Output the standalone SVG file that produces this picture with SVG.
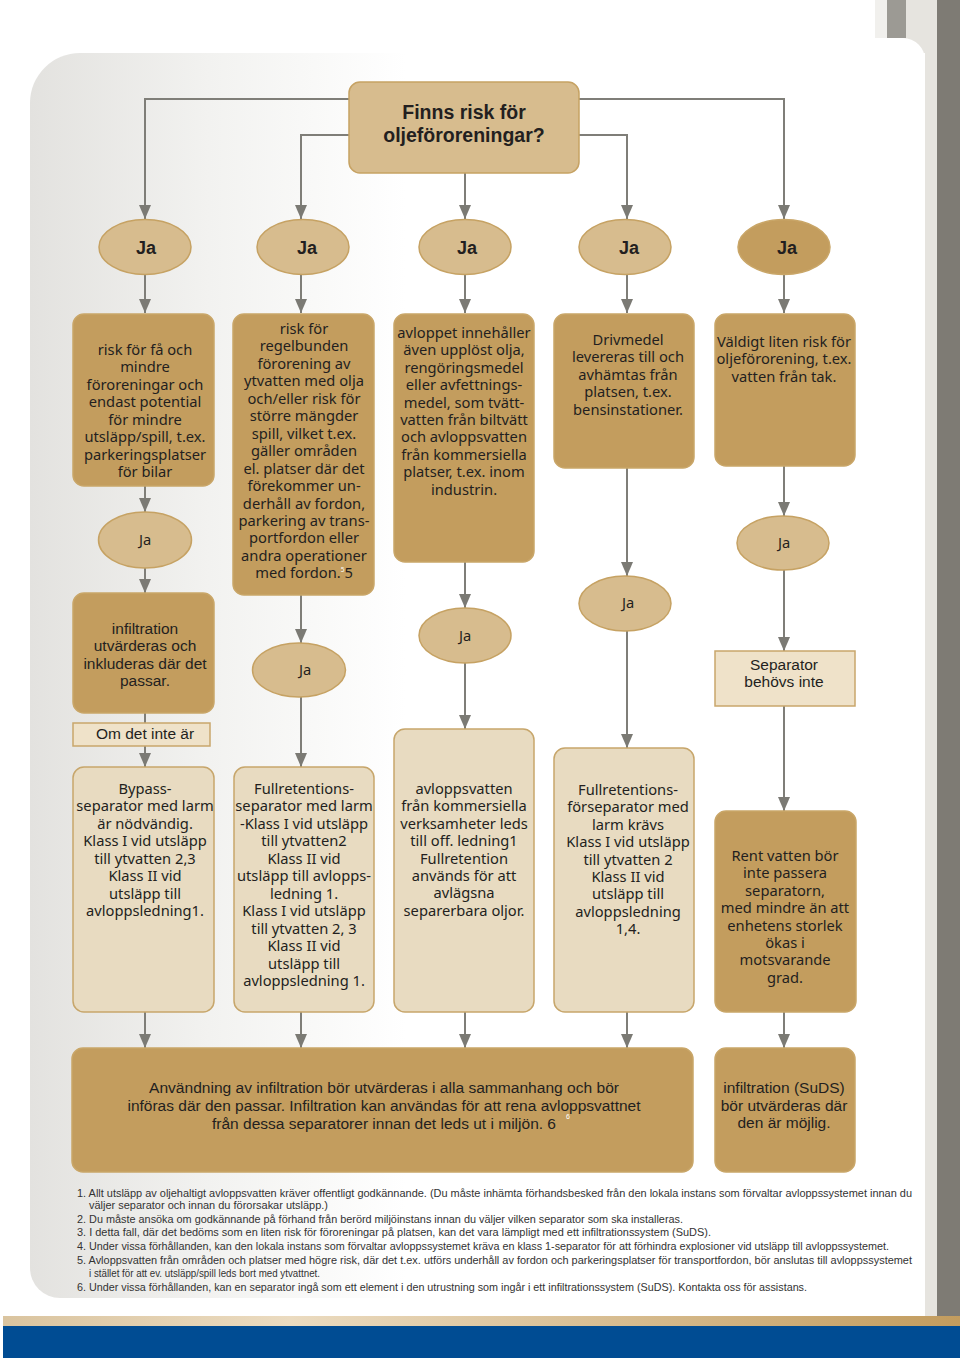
<svg xmlns="http://www.w3.org/2000/svg" width="960" height="1358" viewBox="0 0 960 1358">
<defs>
<linearGradient id="pg" x1="0" y1="0" x2="1" y2="0">
<stop offset="0" stop-color="#e3e2df"/><stop offset="0.2" stop-color="#f2f2f0"/><stop offset="0.42" stop-color="#ffffff"/>
</linearGradient>
<linearGradient id="tan" x1="0" y1="0" x2="1" y2="0">
<stop offset="0" stop-color="#dac49f"/><stop offset="0.3" stop-color="#ebdbc0"/><stop offset="1" stop-color="#c29c5e"/>
</linearGradient>
<marker id="ah" viewBox="0 0 14 12" refX="14" refY="6" markerWidth="14" markerHeight="12" markerUnits="userSpaceOnUse" orient="auto">
<path d="M0,0 L14,6 L0,12 z" fill="#7b7a74"/>
</marker>
<style>
.dk{fill:#c39d5e;stroke:#c9a668;stroke-width:1.5}
.md{fill:#d7bc8e;stroke:#c6a263;stroke-width:1.5}
.lt{fill:#e8dbc1;stroke:#c7a66b;stroke-width:1.5}
.sq{fill:#efe2c9;stroke:#c9a66b;stroke-width:1.5}
.t{font-family:"Noto Sans","Open Sans",sans-serif;font-size:14.7px;fill:#231f20;text-anchor:middle}
.c{font-family:"Liberation Sans",Arial,sans-serif;font-size:15.5px;fill:#231f20;text-anchor:middle}
.b{font-family:"Liberation Sans",Arial,sans-serif;font-weight:bold;fill:#231f20;text-anchor:middle}
.fn{font-family:"Liberation Sans",Arial,sans-serif;font-size:11.5px;fill:#333333}
.ln{fill:none;stroke:#7f7e78;stroke-width:2}
.a{marker-end:url(#ah)}
</style>
</defs>

<!-- background -->
<rect x="0" y="0" width="960" height="1358" fill="#ffffff"/>
<rect x="875" y="0" width="62" height="1316" fill="#e6e4df"/>
<rect x="875" y="0" width="12" height="38" fill="#f1f0ed"/>
<rect x="887" y="0" width="19" height="38" fill="#9c9a94"/>
<rect x="937" y="0" width="23" height="1316" fill="#7e7b74"/>
<path d="M0,38 H903 A22,22 0 0 1 925,60 V1316 H0 Z" fill="#ffffff"/>
<path d="M30,1268 V103 A50,50 0 0 1 80,53 H925 V1298 H60 A30,30 0 0 1 30,1268 Z" fill="url(#pg)"/>
<rect x="3" y="1316" width="957" height="10" fill="url(#tan)"/>
<rect x="3" y="1326" width="957" height="32" fill="#004c93"/>

<!-- connectors -->
<g id="connectors">
<polyline class="ln a" points="349,99 145,99 145,219"/>
<polyline class="ln a" points="349,135 301,135 301,219"/>
<line class="ln a" x1="465" y1="173" x2="465" y2="219"/>
<polyline class="ln a" points="579,135 627,135 627,219"/>
<polyline class="ln a" points="579,99 784,99 784,219"/>

<line class="ln a" x1="145" y1="275" x2="145" y2="313"/>
<line class="ln a" x1="301" y1="275" x2="301" y2="313"/>
<line class="ln a" x1="465" y1="275" x2="465" y2="313"/>
<line class="ln a" x1="627" y1="275" x2="627" y2="313"/>
<line class="ln a" x1="784" y1="275" x2="784" y2="313"/>

<line class="ln a" x1="145" y1="486" x2="145" y2="512"/>
<line class="ln a" x1="145" y1="568" x2="145" y2="593"/>
<line class="ln" x1="145" y1="713" x2="145" y2="723"/>
<line class="ln a" x1="145" y1="746" x2="145" y2="767"/>

<line class="ln a" x1="301" y1="595" x2="301" y2="643"/>
<line class="ln a" x1="301" y1="697" x2="301" y2="767"/>

<line class="ln a" x1="465" y1="562" x2="465" y2="608"/>
<line class="ln a" x1="465" y1="663" x2="465" y2="729"/>

<line class="ln a" x1="627" y1="468" x2="627" y2="576"/>
<line class="ln a" x1="627" y1="631" x2="627" y2="748"/>

<line class="ln a" x1="784" y1="466" x2="784" y2="516"/>
<line class="ln a" x1="784" y1="570" x2="784" y2="651"/>
<line class="ln a" x1="784" y1="706" x2="784" y2="811"/>

<line class="ln a" x1="145" y1="1012" x2="145" y2="1048"/>
<line class="ln a" x1="301" y1="1012" x2="301" y2="1048"/>
<line class="ln a" x1="465" y1="1012" x2="465" y2="1048"/>
<line class="ln a" x1="627" y1="1012" x2="627" y2="1048"/>
<line class="ln a" x1="784" y1="1012" x2="784" y2="1048"/>
</g>

<!-- top question -->
<g id="n-top">
<rect class="md" x="349" y="82" width="230" height="91" rx="11"/>
<text class="b" font-size="19.5" x="464" y="119">Finns risk för</text>
<text class="b" font-size="19.5" x="464" y="142">oljeföroreningar?</text>
</g>

<!-- row 1 Ja -->
<g id="n-ja1"><ellipse class="md" cx="145" cy="247" rx="46" ry="27.5"/><text class="b" font-size="18" x="146" y="254">Ja</text></g>
<g id="n-ja2"><ellipse class="md" cx="303" cy="247" rx="46" ry="27.5"/><text class="b" font-size="18" x="307" y="254">Ja</text></g>
<g id="n-ja3"><ellipse class="md" cx="465" cy="247" rx="46" ry="27.5"/><text class="b" font-size="18" x="467" y="254">Ja</text></g>
<g id="n-ja4"><ellipse class="md" cx="625" cy="247" rx="46" ry="27.5"/><text class="b" font-size="18" x="629" y="254">Ja</text></g>
<g id="n-ja5"><ellipse class="dk" cx="784" cy="247" rx="46" ry="27.5"/><text class="b" font-size="18" x="787" y="254">Ja</text></g>

<!-- row 2 boxes -->
<g id="n-b1">
<rect class="dk" x="73" y="314" width="141" height="172" rx="11"/>
<text class="t" x="145" y="355">risk för få och<tspan x="145" dy="17.45">mindre</tspan><tspan x="145" dy="17.45">föroreningar och</tspan><tspan x="145" dy="17.45">endast potential</tspan><tspan x="145" dy="17.45">för mindre</tspan><tspan x="145" dy="17.45">utsläpp/spill, t.ex.</tspan><tspan x="145" dy="17.45">parkeringsplatser</tspan><tspan x="145" dy="17.45">för bilar</tspan></text>
</g>
<g id="n-b2">
<rect class="dk" x="233" y="314" width="141" height="281" rx="11"/>
<text class="t" x="304" y="334">risk för<tspan x="304" dy="17.45">regelbunden</tspan><tspan x="304" dy="17.45">förorening av</tspan><tspan x="304" dy="17.45">ytvatten med olja</tspan><tspan x="304" dy="17.45">och/eller risk för</tspan><tspan x="304" dy="17.45">större mängder</tspan><tspan x="304" dy="17.45">spill, vilket t.ex.</tspan><tspan x="304" dy="17.45">gäller områden</tspan><tspan x="304" dy="17.45">el. platser där det</tspan><tspan x="304" dy="17.45">förekommer un-</tspan><tspan x="304" dy="17.45">derhåll av fordon,</tspan><tspan x="304" dy="17.45">parkering av trans-</tspan><tspan x="304" dy="17.45">portfordon eller</tspan><tspan x="304" dy="17.45">andra operationer</tspan><tspan x="304" dy="17.45">med fordon.</tspan><tspan font-size="6.5" fill="#ffffff" dy="-6">5</tspan><tspan dy="6">5</tspan></text>
</g>
<g id="n-b3">
<rect class="dk" x="394" y="314" width="140" height="248" rx="11"/>
<text class="t" x="464" y="338">avloppet innehåller<tspan x="464" dy="17.4">även upplöst olja,</tspan><tspan x="464" dy="17.4">rengöringsmedel</tspan><tspan x="464" dy="17.4">eller avfettnings-</tspan><tspan x="464" dy="17.4">medel, som tvätt-</tspan><tspan x="464" dy="17.4">vatten från biltvätt</tspan><tspan x="464" dy="17.4">och avloppsvatten</tspan><tspan x="464" dy="17.4">från kommersiella</tspan><tspan x="464" dy="17.4">platser, t.ex. inom</tspan><tspan x="464" dy="17.4">industrin.</tspan></text>
</g>
<g id="n-b4">
<rect class="dk" x="554" y="314" width="140" height="154" rx="11"/>
<text class="t" x="628" y="345">Drivmedel<tspan x="628" dy="17.4">levereras till och</tspan><tspan x="628" dy="17.4">avhämtas från</tspan><tspan x="628" dy="17.4">platsen, t.ex.</tspan><tspan x="628" dy="17.4">bensinstationer.</tspan></text>
</g>
<g id="n-b5">
<rect class="dk" x="715" y="314" width="140" height="152" rx="11"/>
<text class="t" x="784" y="347">Väldigt liten risk för<tspan x="784" dy="17.4">oljeförorening, t.ex.</tspan><tspan x="784" dy="17.4">vatten från tak.</tspan></text>
</g>

<!-- intermediate -->
<g id="n-ja6"><ellipse class="md" cx="145" cy="540" rx="46.5" ry="28"/><text class="t" x="145" y="545">Ja</text></g>
<g id="n-infil">
<rect class="dk" x="73" y="593" width="141" height="120" rx="11"/>
<text class="c" x="145" y="634">infiltration<tspan x="145" dy="17.4">utvärderas och</tspan><tspan x="145" dy="17.4">inkluderas där det</tspan><tspan x="145" dy="17.4">passar.</tspan></text>
</g>
<g id="n-om">
<rect class="sq" x="73" y="723" width="137" height="23"/>
<text class="c" x="145" y="739">Om det inte är</text>
</g>
<g id="n-ja7"><ellipse class="md" cx="299" cy="670" rx="46.5" ry="27"/><text class="t" x="305" y="675">Ja</text></g>
<g id="n-ja8"><ellipse class="md" cx="465" cy="635.5" rx="46" ry="27.5"/><text class="t" x="465" y="641">Ja</text></g>
<g id="n-ja9"><ellipse class="md" cx="625" cy="603.5" rx="46" ry="27.5"/><text class="t" x="628" y="608">Ja</text></g>
<g id="n-ja10"><ellipse class="md" cx="783" cy="543" rx="46" ry="27"/><text class="t" x="784" y="548">Ja</text></g>
<g id="n-sep">
<rect class="sq" x="715" y="651" width="140" height="55"/>
<text class="c" x="784" y="670">Separator<tspan x="784" dy="17.4">behövs inte</tspan></text>
</g>

<!-- row 3 boxes -->
<g id="n-c1">
<rect class="lt" x="73" y="767" width="141" height="245" rx="11"/>
<text class="t" x="145" y="794">Bypass-<tspan x="145" dy="17.45">separator med larm</tspan><tspan x="145" dy="17.45">är nödvändig.</tspan><tspan x="145" dy="17.45">Klass I vid utsläpp</tspan><tspan x="145" dy="17.45">till ytvatten 2,3</tspan><tspan x="145" dy="17.45">Klass II vid</tspan><tspan x="145" dy="17.45">utsläpp till</tspan><tspan x="145" dy="17.45">avloppsledning1.</tspan></text>
</g>
<g id="n-c2">
<rect class="lt" x="234" y="767" width="140" height="245" rx="11"/>
<text class="t" x="304" y="794">Fullretentions-<tspan x="304" dy="17.45">separator med larm</tspan><tspan x="304" dy="17.45">-Klass I vid utsläpp</tspan><tspan x="304" dy="17.45">till ytvatten2</tspan><tspan x="304" dy="17.45">Klass II vid</tspan><tspan x="304" dy="17.45">utsläpp till avlopps-</tspan><tspan x="304" dy="17.45">ledning 1.</tspan><tspan x="304" dy="17.45">Klass I vid utsläpp</tspan><tspan x="304" dy="17.45">till ytvatten 2, 3</tspan><tspan x="304" dy="17.45">Klass II vid</tspan><tspan x="304" dy="17.45">utsläpp till</tspan><tspan x="304" dy="17.45">avloppsledning 1.</tspan></text>
</g>
<g id="n-c3">
<rect class="lt" x="394" y="729" width="140" height="283" rx="11"/>
<text class="t" x="464" y="794">avloppsvatten<tspan x="464" dy="17.4">från kommersiella</tspan><tspan x="464" dy="17.4">verksamheter leds</tspan><tspan x="464" dy="17.4">till off. ledning1</tspan><tspan x="464" dy="17.4">Fullretention</tspan><tspan x="464" dy="17.4">används för att</tspan><tspan x="464" dy="17.4">avlägsna</tspan><tspan x="464" dy="17.4">separerbara oljor.</tspan></text>
</g>
<g id="n-c4">
<rect class="lt" x="554" y="748" width="140" height="264" rx="11"/>
<text class="t" x="628" y="795">Fullretentions-<tspan x="628" dy="17.4">förseparator med</tspan><tspan x="628" dy="17.4">larm krävs</tspan><tspan x="628" dy="17.4">Klass I vid utsläpp</tspan><tspan x="628" dy="17.4">till ytvatten 2</tspan><tspan x="628" dy="17.4">Klass II vid</tspan><tspan x="628" dy="17.4">utsläpp till</tspan><tspan x="628" dy="17.4">avloppsledning</tspan><tspan x="628" dy="17.4">1,4.</tspan></text>
</g>
<g id="n-c5">
<rect class="dk" x="715" y="811" width="141" height="201" rx="11"/>
<text class="t" x="785" y="861">Rent vatten bör<tspan x="785" dy="17.4">inte passera</tspan><tspan x="785" dy="17.4">separatorn,</tspan><tspan x="785" dy="17.4">med mindre än att</tspan><tspan x="785" dy="17.4">enhetens storlek</tspan><tspan x="785" dy="17.4">ökas i</tspan><tspan x="785" dy="17.4">motsvarande</tspan><tspan x="785" dy="17.4">grad.</tspan></text>
</g>

<!-- bottom boxes -->
<g id="n-d1">
<rect class="dk" x="72" y="1048" width="621" height="124" rx="11"/>
<text class="c" font-size="16.5" x="384" y="1093" textLength="470" lengthAdjust="spacingAndGlyphs">Användning av infiltration bör utvärderas i alla sammanhang och bör</text>
<text class="c" font-size="16.5" x="384" y="1111" textLength="513" lengthAdjust="spacingAndGlyphs">införas där den passar. Infiltration kan användas för att rena avloppsvattnet</text>
<text class="c" font-size="16.5" x="384" y="1129" textLength="344" lengthAdjust="spacingAndGlyphs">från dessa separatorer innan det leds ut i miljön. 6</text>
<text x="566" y="1119" font-family="Liberation Sans, sans-serif" font-size="7" fill="#ffffff">6</text>
</g>
<g id="n-d2">
<rect class="dk" x="715" y="1048" width="140" height="124" rx="11"/>
<text class="c" x="784" y="1093">infiltration (SuDS)<tspan x="784" dy="17.6">bör utvärderas där</tspan><tspan x="784" dy="17.6">den är möjlig.</tspan></text>
</g>

<!-- footnotes -->
<g id="footnotes">
<text class="fn" x="77" y="1197" textLength="835" lengthAdjust="spacingAndGlyphs">1. Allt utsläpp av oljehaltigt avloppsvatten kräver offentligt godkännande. (Du måste inhämta förhandsbesked från den lokala instans som förvaltar avloppssystemet innan du</text>
<text class="fn" x="89" y="1209" textLength="239" lengthAdjust="spacingAndGlyphs">väljer separator och innan du förorsakar utsläpp.)</text>
<text class="fn" x="77" y="1223" textLength="606" lengthAdjust="spacingAndGlyphs">2. Du måste ansöka om godkännande på förhand från berörd miljöinstans innan du väljer vilken separator som ska installeras.</text>
<text class="fn" x="77" y="1236" textLength="634" lengthAdjust="spacingAndGlyphs">3. I detta fall, där det bedöms som en liten risk för föroreningar på platsen, kan det vara lämpligt med ett infiltrationssystem (SuDS).</text>
<text class="fn" x="77" y="1250" textLength="812" lengthAdjust="spacingAndGlyphs">4. Under vissa förhållanden, kan den lokala instans som förvaltar avloppssystemet kräva en klass 1-separator för att förhindra explosioner vid utsläpp till avloppssystemet.</text>
<text class="fn" x="77" y="1264" textLength="835" lengthAdjust="spacingAndGlyphs">5. Avloppsvatten från områden och platser med högre risk, där det t.ex. utförs underhåll av fordon och parkeringsplatser för transportfordon, bör anslutas till avloppssystemet</text>
<text class="fn" x="89" y="1277" textLength="231" lengthAdjust="spacingAndGlyphs">i stället för att ev. utsläpp/spill leds bort med ytvattnet.</text>
<text class="fn" x="77" y="1291" textLength="730" lengthAdjust="spacingAndGlyphs">6. Under vissa förhållanden, kan en separator ingå som ett element i den utrustning som ingår i ett infiltrationssystem (SuDS). Kontakta oss för assistans.</text>
</g>
</svg>
